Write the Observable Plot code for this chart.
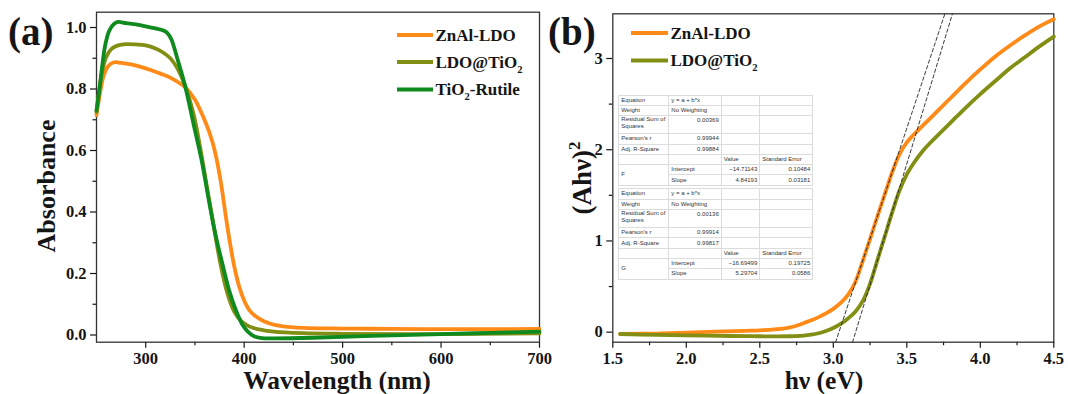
<!DOCTYPE html>
<html>
<head>
<meta charset="utf-8">
<script src="https://cdn.jsdelivr.net/npm/d3@7"></script>
<script src="https://cdn.jsdelivr.net/npm/@observablehq/plot@0.6"></script>
<style>
  body { margin: 0; background: #fff; }
  #fig { position: relative; width: 1068px; height: 394px; overflow: hidden; background: #fff; }
  #fig svg { position: absolute; top: 0; }
  table.fit {
    position: absolute; border-collapse: collapse; table-layout: fixed;
    font-family: "Liberation Sans", Arial, sans-serif; font-size: 6px; color: #333;
    background: #fff; border: 1.5px solid #a9a9a9;
  }
  table.fit td {
    border: 1px solid #dcdcdc; padding: 0 2px; white-space: nowrap; overflow: hidden;
    line-height: 7px; vertical-align: middle;
  }
  table.fit tr { height: 10.3px; }
  table.fit tr.tall { height: 18.2px; }
  table.fit td.num { text-align: right; }
  table.fit tr.tall td.num { vertical-align: top; padding-top: 1px; }
</style>
</head>
<body>
<div id="fig"></div>
<script>
// ---------- (a) UV-vis absorbance spectra ----------
const znalWl  = [250, 253, 257, 262, 268, 275, 285, 295, 305, 315, 325, 333, 340, 350, 359, 364, 368, 372, 375, 378, 382, 386, 390, 395, 400, 405, 412, 420, 432, 450, 500, 550, 600, 650, 700];
const znalAbs = [0.715, 0.775, 0.84, 0.875, 0.887, 0.885, 0.88, 0.872, 0.862, 0.85, 0.837, 0.822, 0.806, 0.765, 0.705, 0.665, 0.625, 0.572, 0.522, 0.462, 0.372, 0.292, 0.222, 0.157, 0.112, 0.082, 0.06, 0.045, 0.032, 0.025, 0.021, 0.02, 0.019, 0.019, 0.02];

const ldoWl  = [250, 253, 256, 260, 265, 272, 280, 290, 300, 310, 318, 325, 332, 340, 349, 355, 362, 369, 376, 383, 390, 397, 405, 415, 430, 460, 500, 600, 700];
const ldoAbs = [0.725, 0.8, 0.86, 0.905, 0.93, 0.942, 0.946, 0.945, 0.942, 0.932, 0.918, 0.9, 0.868, 0.81, 0.713, 0.615, 0.485, 0.355, 0.23, 0.135, 0.075, 0.045, 0.028, 0.018, 0.011, 0.006, 0.004, 0.003, 0.005];

const rutWl  = [250, 253, 256, 259, 263, 268, 272, 280, 290, 300, 310, 318, 322, 326, 332, 340, 349, 357, 364, 371, 378, 385, 392, 398, 404, 410, 418, 430, 470, 530, 600, 650, 700];
const rutAbs = [0.73, 0.8, 0.88, 0.945, 0.99, 1.012, 1.018, 1.014, 1.01, 1.004, 0.997, 0.99, 0.982, 0.962, 0.9, 0.81, 0.68, 0.565, 0.44, 0.325, 0.23, 0.142, 0.077, 0.035, 0.01, -0.004, -0.01, -0.011, -0.009, -0.003, 0.003, 0.007, 0.011];

const wlTicks = [300, 400, 500, 600, 700];
const wlMinor = [350, 450, 550, 650];
const absTicks = [0, 0.2, 0.4, 0.6, 0.8, 1.0];
const absMinor = [0.1, 0.3, 0.5, 0.7, 0.9];

// ---------- (b) Tauc plot ----------
const znalEv = [1.55, 1.8, 2.0, 2.2, 2.4, 2.5, 2.6, 2.7, 2.75, 2.8, 2.85, 2.9, 2.95, 3.0, 3.05, 3.1, 3.15, 3.2, 3.25, 3.3, 3.35, 3.4, 3.45, 3.5, 3.55, 3.6, 3.65, 3.7, 3.8, 3.9, 4.0, 4.1, 4.2, 4.3, 4.4, 4.5];
const znalTauc = [-0.02, -0.015, -0.005, 0.005, 0.015, 0.02, 0.03, 0.05, 0.07, 0.1, 0.13, 0.165, 0.205, 0.255, 0.32, 0.41, 0.55, 0.78, 1.02, 1.27, 1.51, 1.75, 1.95, 2.08, 2.17, 2.25, 2.33, 2.41, 2.57, 2.73, 2.88, 3.02, 3.14, 3.25, 3.35, 3.43];

const ldoEv = [1.55, 1.8, 2.0, 2.3, 2.5, 2.7, 2.8, 2.85, 2.9, 2.95, 3.0, 3.05, 3.1, 3.15, 3.2, 3.25, 3.3, 3.35, 3.4, 3.45, 3.5, 3.55, 3.6, 3.65, 3.7, 3.8, 3.9, 4.0, 4.1, 4.2, 4.3, 4.4, 4.5];
const ldoTauc = [-0.02, -0.03, -0.035, -0.042, -0.045, -0.045, -0.038, -0.028, -0.012, 0.012, 0.045, 0.09, 0.15, 0.225, 0.34, 0.53, 0.79, 1.05, 1.31, 1.55, 1.73, 1.86, 1.97, 2.06, 2.14, 2.3, 2.46, 2.61, 2.75, 2.89, 3.01, 3.13, 3.24];

// Linear fits y = a + b*x of the absorption edges (F: ZnAl-LDO, G: LDO@TiO2)
const fitNames = ["F", "G"];
const fitIntercept = [-14.71143, -16.69499];
const fitInterceptErr = [0.10484, 0.19725];
const fitSlope = [4.84193, 5.29704];
const fitSlopeErr = [0.03181, 0.0586];
const fitRss = ["0.00369", "0.00136"];
const fitPearson = ["0.99944", "0.99914"];
const fitAdjR2 = ["0.99884", "0.99817"];

const evTicks = [1.5, 2.0, 2.5, 3.0, 3.5, 4.0, 4.5];
const evMinor = [1.75, 2.25, 2.75, 3.25, 3.75, 4.25];
const taucTicks = [0, 1, 2, 3];
const taucMinor = [0.5, 1.5, 2.5];

const ORANGE = "#ff8a17";
const OLIVE = "#838f14";
const GREEN = "#0f8a1f";
const SERIF = '"Liberation Serif", "Times New Roman", serif';
const INK = "#151515";

const zip = (xs, ys) => xs.map((x, i) => ({x, y: ys[i]}));

function axes(xMajor, xMinor, yMajor, yMinor, xFmt, yFmt) {
  const common = {fontSize: 16.5, fontFamily: SERIF, fontWeight: "bold", color: INK, label: null};
  return [
    Plot.axisX(xMajor, {...common, tickSize: 6, tickPadding: 4, tickFormat: xFmt, strokeWidth: 1.2}),
    Plot.axisX(xMinor, {...common, tickSize: 3.5, tickFormat: () => "", strokeWidth: 1.2}),
    Plot.axisY(yMajor, {...common, tickSize: 6, tickPadding: 4, tickFormat: yFmt, strokeWidth: 1.2}),
    Plot.axisY(yMinor, {...common, tickSize: 3.5, tickFormat: () => "", strokeWidth: 1.2}),
    Plot.frame({stroke: "#333", strokeWidth: 1.3})
  ];
}

function richText(sel, x, y, parts, size, anchor = "start", rotate = 0) {
  const t = sel.append("text")
    .attr("x", x).attr("y", y)
    .attr("font-family", SERIF).attr("font-weight", "bold")
    .attr("font-size", size).attr("text-anchor", anchor).attr("fill", INK);
  if (rotate) t.attr("transform", `rotate(${rotate},${x},${y})`);
  let shift = 0;
  for (const [s, kind] of parts) {
    const target = kind === "sub" ? size * 0.3 : kind === "sup" ? -size * 0.4 : 0;
    t.append("tspan").attr("dy", target - shift).attr("font-size", kind ? size * 0.62 : size).text(s);
    shift = target;
  }
  return t;
}

function legend(sel, x0, x1, rows) {
  for (const r of rows) {
    sel.append("line").attr("x1", x0).attr("x2", x1).attr("y1", r.y).attr("y2", r.y)
      .attr("stroke", r.color).attr("stroke-width", 4.2);
    richText(sel, x1 + 2.5, r.y + 5.8, r.parts, 17);
  }
}

const fig = document.getElementById("fig");

// ---------- panel (a) ----------
const plotA = Plot.plot({
  width: 545, height: 394,
  marginLeft: 96, marginRight: 6, marginTop: 11.7, marginBottom: 52.3,
  x: {domain: [250, 700]},
  y: {domain: [-0.0234, 1.0498]},
  style: {background: "transparent", overflow: "visible"},
  marks: [
    ...axes(wlTicks, wlMinor, absTicks, absMinor, d3.format("d"), d3.format(".1f")),
    Plot.line(zip(znalWl, znalAbs), {x: "x", y: "y", stroke: ORANGE, strokeWidth: 3.8, curve: "catmull-rom"}),
    Plot.line(zip(ldoWl, ldoAbs), {x: "x", y: "y", stroke: OLIVE, strokeWidth: 3.8, curve: "catmull-rom"}),
    Plot.line(zip(rutWl, rutAbs), {x: "x", y: "y", stroke: GREEN, strokeWidth: 3.8, curve: "catmull-rom"})
  ]
});
plotA.style.left = "0px";
fig.appendChild(plotA);

{
  const s = d3.select(plotA);
  richText(s, 8, 45, [["(a)"]], 39);
  richText(s, 337, 389, [["Wavelength (nm)"]], 25.5, "middle");
  richText(s, 55, 186, [["Absorbance"]], 26, "middle", -90);
  legend(s, 397, 433, [
    {y: 35, color: ORANGE, parts: [["ZnAl-LDO"]]},
    {y: 62, color: OLIVE, parts: [["LDO@TiO"], ["2", "sub"]]},
    {y: 89.5, color: GREEN, parts: [["TiO"], ["2", "sub"], ["-Rutile"]]}
  ]);
}

// ---------- panel (b) ----------
const yDomB = [-0.11, 3.49];
const fitLines = fitNames.map((name, i) =>
  yDomB.map(y => ({name, x: (y - fitIntercept[i]) / fitSlope[i], y}))
).flat();

const plotB = Plot.plot({
  width: 528, height: 394,
  marginLeft: 72.3, marginRight: 14.7, marginTop: 13.3, marginBottom: 52.3,
  x: {domain: [1.5, 4.5]},
  y: {domain: yDomB},
  style: {background: "transparent", overflow: "visible"},
  marks: [
    ...axes(evTicks, evMinor, taucTicks, taucMinor, d3.format(".1f"), d3.format("d")),
    Plot.line(zip(znalEv, znalTauc), {x: "x", y: "y", stroke: ORANGE, strokeWidth: 3.8, curve: "catmull-rom"}),
    Plot.line(zip(ldoEv, ldoTauc), {x: "x", y: "y", stroke: OLIVE, strokeWidth: 3.8, curve: "catmull-rom"}),
    Plot.line(fitLines, {x: "x", y: "y", z: "name", stroke: "#222", strokeWidth: 0.9, strokeDasharray: "3.5,2.5"})
  ]
});
plotB.style.left = "540px";
fig.appendChild(plotB);

{
  const s = d3.select(plotB);
  richText(s, 8, 45, [["(b)"]], 39);
  richText(s, 284, 389, [["hν (eV)"]], 25.5, "middle");
  richText(s, 51, 178, [["(Ahν)"], ["2", "sup"]], 27, "middle", -90);
  legend(s, 91, 128, [
    {y: 33, color: ORANGE, parts: [["ZnAl-LDO"]]},
    {y: 60.5, color: OLIVE, parts: [["LDO@TiO"], ["2", "sub"]]}
  ]);
}

// ---------- fit report tables ----------
const f5 = d3.format(".5f");
function fitTable(i, top) {
  const tbl = document.createElement("table");
  tbl.className = "fit";
  tbl.style.left = "618.3px";
  tbl.style.top = top + "px";
  tbl.style.width = "194px";
  const colW = [50, 52.5, 38.5, 53];
  const cg = document.createElement("colgroup");
  colW.forEach(w => { const c = document.createElement("col"); c.style.width = w + "px"; cg.appendChild(c); });
  tbl.appendChild(cg);
  const rows = [
    [["Equation"], ["y = a + b*x"], [""], [""]],
    [["Weight"], ["No Weighting"], [""], [""]],
    [["Residual Sum of<br>Squares"], [fitRss[i], "num"], [""], [""], "tall"],
    [["Pearson's r"], [fitPearson[i], "num"], [""], [""]],
    [["Adj. R-Square"], [fitAdjR2[i], "num"], [""], [""]],
    [[""], [""], ["Value"], ["Standard Error"]],
  ];
  for (const r of rows) {
    const tr = document.createElement("tr");
    if (r[4] === "tall") tr.className = "tall";
    for (let c = 0; c < 4; c++) {
      const td = document.createElement("td");
      td.innerHTML = r[c][0];
      if (r[c][1]) td.className = r[c][1];
      if (c === 0 && r[4] === "tall") td.style.verticalAlign = "top";
      tr.appendChild(td);
    }
    tbl.appendChild(tr);
  }
  const tr1 = document.createElement("tr");
  tr1.innerHTML = `<td rowspan="2">${fitNames[i]}</td><td>Intercept</td><td class="num">${f5(fitIntercept[i])}</td><td class="num">${fitInterceptErr[i]}</td>`;
  tbl.appendChild(tr1);
  const tr2 = document.createElement("tr");
  tr2.innerHTML = `<td>Slope</td><td class="num">${f5(fitSlope[i])}</td><td class="num">${fitSlopeErr[i]}</td>`;
  tbl.appendChild(tr2);
  fig.appendChild(tbl);
}
fitTable(0, 94.5);
fitTable(1, 188.3);
</script>
</body>
</html>
